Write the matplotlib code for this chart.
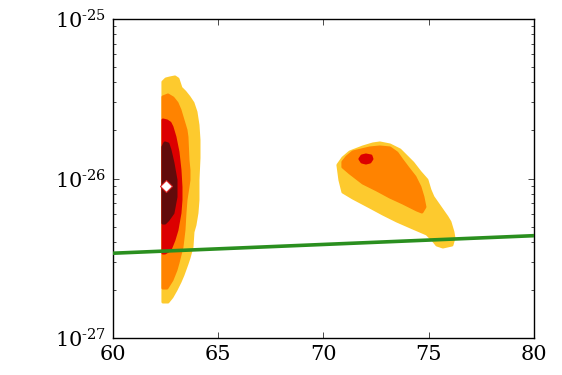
import numpy as np
import matplotlib
matplotlib.use("Agg")
import matplotlib.pyplot as plt
from matplotlib.ticker import LogLocator, NullLocator, FixedLocator, FuncFormatter

plt.rcParams['font.family'] = ['DejaVu Serif']
plt.rcParams['mathtext.fontset'] = 'dejavuserif'
plt.rcParams['axes.unicode_minus'] = False

SCALE = 1e-27

# Credible-region outlines (x = parameter, y in units of 1e-27)
left_gold_x = [62.375, 62.375, 62.518, 62.708, 62.945, 63.088, 63.230, 63.420, 63.610, 63.800,
               63.943, 64.038, 64.086, 64.086, 64.038, 64.038, 63.990, 63.895, 63.800, 63.753,
               63.610, 63.515, 63.325, 63.183, 62.993, 62.803, 62.613]
left_gold_y = [1.682, 40.27, 42.05, 42.67, 43.30, 42.05, 36.93, 34.86, 32.43, 29.74,
               26.12, 21.65, 17.43, 13.45, 9.786, 7.334, 6.076, 5.110, 4.619, 3.721,
               3.174, 2.911, 2.483, 2.245, 2.000, 1.807, 1.682]

left_orange_x = [62.375, 62.375, 62.613, 62.850, 63.040, 63.183, 63.325, 63.468, 63.515, 63.563,
                 63.610, 63.610, 63.563, 63.468, 63.420, 63.373, 63.278, 63.088, 62.993, 62.803,
                 62.565]
left_orange_y = [2.058, 32.43, 33.38, 31.97, 29.74, 26.88, 23.27, 20.15, 18.20, 13.06,
                 11.30, 9.786, 8.846, 7.334, 6.076, 4.754, 3.721, 2.953, 2.669, 2.310,
                 2.058]

left_red_x = [62.375, 62.375, 62.565, 62.708, 62.803, 62.945, 63.088, 63.183, 63.230, 63.230,
              63.183, 63.040, 62.898, 62.708, 62.470]
left_red_y = [3.412, 23.27, 22.94, 22.28, 21.03, 18.20, 14.66, 11.30, 8.846, 7.334,
              6.076, 4.754, 4.116, 3.563, 3.412]

left_dark_x = [62.375, 62.375, 62.470, 62.613, 62.708, 62.850, 62.993, 62.993, 62.850,
               62.613, 62.470]
left_dark_y = [5.260, 15.76, 16.70, 16.46, 15.09, 12.51, 9.786, 7.656, 6.076,
               5.493, 5.260]

right_gold_x = [70.689, 70.926, 71.259, 71.876, 72.352, 72.684, 73.159, 73.634, 73.967, 74.252,
                74.584, 74.917, 75.059, 75.202, 75.534, 75.867, 76.010, 76.152, 76.200, 76.105,
                75.677, 75.392, 75.202, 74.917, 74.252, 73.492, 72.827, 72.209, 71.401, 70.926,
                70.784]
right_gold_y = [12.15, 13.45, 14.66, 15.76, 16.46, 16.70, 16.22, 15.09, 13.64, 12.51,
                10.98, 9.786, 8.472, 7.656, 6.627, 5.736, 5.337, 4.619, 4.236, 3.830,
                3.721, 3.830, 4.116, 4.487, 4.894, 5.414, 5.990, 6.627, 7.545, 8.229,
                9.786]

right_orange_x = [70.926, 71.116, 71.401, 72.209, 72.684, 73.159, 73.492, 73.729, 74.014, 74.347,
                  74.584, 74.727, 74.822, 74.679, 74.442, 73.777, 73.159, 72.542, 71.876, 71.259,
                  70.926]
right_orange_y = [12.69, 13.64, 14.66, 15.54, 15.76, 15.54, 14.45, 13.06, 11.64, 10.22,
                  8.846, 7.656, 6.627, 6.166, 6.346, 7.022, 7.656, 8.472, 9.371, 10.83,
                  11.81]

right_red_x = [71.734, 71.829, 72.019, 72.257, 72.304, 72.209, 72.019, 71.829]
right_red_y = [13.26, 13.84, 14.04, 13.84, 13.26, 12.69, 12.51, 12.69]

best_x = [62.52]
best_y = [8.97]

limit_x = [60.0, 80.0]
limit_y = [3.40, 4.38]

y_ticks = [1e-27, 1e-26, 1e-25]
x_ticks = [60, 65, 70, 75, 80]

GOLD = '#fdca2e'
ORANGE = '#ff8300'
RED = '#dc0000'
DARK = '#620b0b'

fig = plt.figure(figsize=(5.62, 3.75), dpi=100)
ax = fig.add_axes([0.201, 0.0987, 0.749, 0.8506])

def region(xs, ys, color, z):
    ax.fill(xs, np.array(ys) * SCALE, facecolor=color, edgecolor=color,
            linewidth=2.2, joinstyle='round', zorder=z)

region(left_gold_x, left_gold_y, GOLD, 1)
region(left_orange_x, left_orange_y, ORANGE, 2)
region(left_red_x, left_red_y, RED, 3)
region(left_dark_x, left_dark_y, DARK, 4)
region(right_gold_x, right_gold_y, GOLD, 1)
region(right_orange_x, right_orange_y, ORANGE, 2)
region(right_red_x, right_red_y, RED, 3)

ax.plot(limit_x, np.array(limit_y) * SCALE, color='#2a8f1f', linewidth=2.6, zorder=5)
ax.plot(best_x, np.array(best_y) * SCALE, marker='D', markersize=6,
        markerfacecolor='white', markeredgecolor='#dc2020', markeredgewidth=0.8,
        linestyle='none', zorder=6)

ax.set_yscale('log')
ax.set_xlim(60, 80)
ax.set_ylim(1e-27, 1e-25)
ax.xaxis.set_major_locator(FixedLocator(x_ticks))
ax.xaxis.set_minor_locator(NullLocator())
ax.yaxis.set_major_locator(FixedLocator(y_ticks))
ax.yaxis.set_minor_locator(LogLocator(base=10, subs=np.arange(2, 10), numticks=10))

def fmt(v, pos):
    e = int(round(np.log10(v)))
    return r'$\mathdefault{10^{\text{-}%d}}$' % (-e) if e < 0 else r'$\mathdefault{10^{%d}}$' % e

ax.yaxis.set_major_formatter(FuncFormatter(fmt))

ax.tick_params(which='both', direction='in', top=True, right=True, labelsize=15)
ax.tick_params(which='major', length=4, width=0.5, pad=5)
ax.tick_params(which='minor', length=2, width=0.5)
for s in ax.spines.values():
    s.set_linewidth(1.0)

fig.savefig('out.png', dpi=100)
